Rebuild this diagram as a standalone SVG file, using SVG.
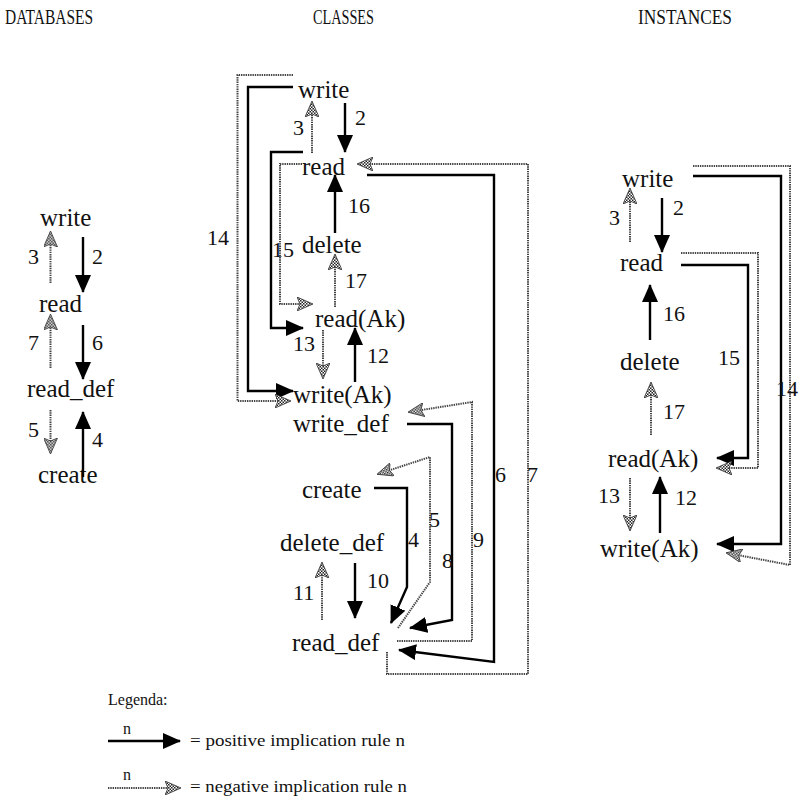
<svg xmlns="http://www.w3.org/2000/svg" width="800" height="805" viewBox="0 0 800 805">
<style>
text{font-family:"Liberation Serif","Times New Roman",serif;fill:#111}
.hd{font-size:20px}
.nd{font-size:25px}
.nm{font-size:22px}
.lg{font-size:16px}
.pos{stroke:#000;stroke-width:2.4;fill:none;marker-end:url(#pa)}
.neg{stroke:#444;stroke-width:2;stroke-dasharray:1.4 0.9;fill:none;marker-end:url(#na)}
</style>
<defs>
<pattern id="chk" width="3" height="3" patternUnits="userSpaceOnUse">
<rect width="3" height="3" fill="#fff"/>
<rect width="1.5" height="1.5" fill="#222"/>
<rect x="1.5" y="1.5" width="1.5" height="1.5" fill="#222"/>
</pattern>
<marker id="pa" viewBox="0 0 18 16" refX="17" refY="8" markerWidth="18" markerHeight="16" markerUnits="userSpaceOnUse" orient="auto">
<path d="M0,0 L18,8 L0,16 Z" fill="#000"/>
</marker>
<marker id="na" viewBox="0 0 16 14" refX="15" refY="7" markerWidth="16" markerHeight="14" markerUnits="userSpaceOnUse" orient="auto">
<path d="M0,0 L16,7 L0,14 L3,7 Z" fill="url(#chk)" stroke="#333" stroke-width="0.8"/>
</marker>
</defs>
<rect width="800" height="805" fill="#fff"/>

<g id="headers">
<text class="hd" x="5" y="24" textLength="88" lengthAdjust="spacingAndGlyphs">DATABASES</text>
<text class="hd" x="313" y="24" textLength="61" lengthAdjust="spacingAndGlyphs">CLASSES</text>
<text class="hd" x="638" y="24" textLength="94" lengthAdjust="spacingAndGlyphs">INSTANCES</text>
</g>

<!-- DATABASES nodes -->
<g id="db-write"><text class="nd" x="40" y="226">write</text></g>
<g id="db-read"><text class="nd" x="39" y="312">read</text></g>
<g id="db-read_def"><text class="nd" x="27" y="397">read_def</text></g>
<g id="db-create"><text class="nd" x="38" y="483">create</text></g>

<!-- CLASSES nodes -->
<g id="cl-write"><text class="nd" x="298" y="98">write</text></g>
<g id="cl-read"><text class="nd" x="302" y="175">read</text></g>
<g id="cl-delete"><text class="nd" x="302" y="253">delete</text></g>
<g id="cl-readAk"><text class="nd" x="315" y="327">read(Ak)</text></g>
<g id="cl-writeAk"><text class="nd" x="293" y="403">write(Ak)</text></g>
<g id="cl-write_def"><text class="nd" x="293" y="432">write_def</text></g>
<g id="cl-create"><text class="nd" x="302" y="498">create</text></g>
<g id="cl-delete_def"><text class="nd" x="280" y="551">delete_def</text></g>
<g id="cl-read_def"><text class="nd" x="292" y="651">read_def</text></g>

<!-- INSTANCES nodes -->
<g id="in-write"><text class="nd" x="622" y="187">write</text></g>
<g id="in-read"><text class="nd" x="620" y="271">read</text></g>
<g id="in-delete"><text class="nd" x="620" y="370">delete</text></g>
<g id="in-readAk"><text class="nd" x="608" y="467">read(Ak)</text></g>
<g id="in-writeAk"><text class="nd" x="600" y="557">write(Ak)</text></g>

<g id="connectors">
<!-- databases -->
<path class="neg" d="M50.5 283 V232"/>
<path class="pos" d="M83 237 V292"/>
<path class="neg" d="M50.5 368 V315"/>
<path class="pos" d="M83 325 V379"/>
<path class="neg" d="M50.5 410 V453"/>
<path class="pos" d="M83 477 V412"/>
<text class="nm" x="28" y="264">3</text>
<text class="nm" x="92" y="264">2</text>
<text class="nm" x="28" y="350">7</text>
<text class="nm" x="92" y="350">6</text>
<text class="nm" x="28" y="437">5</text>
<text class="nm" x="92" y="447">4</text>

<!-- classes -->
<path class="neg" d="M312 153 V102"/>
<path class="pos" d="M345 103 V152"/>
<path class="pos" d="M335 233 V175"/>
<path class="neg" d="M335 307 V255"/>
<path class="neg" d="M323 330 V378"/>
<path class="pos" d="M355 382 V328"/>
<path class="neg" d="M322 620 V563"/>
<path class="pos" d="M355 563 V618"/>
<path class="pos" d="M293 87 H248 V391 H293"/>
<path class="neg" d="M293 75 H237.5 V401 H290"/>
<path class="pos" d="M303 152 H271 V328 H303"/>
<path class="neg" d="M302 164 H280 V304 H312"/>
<path class="neg" d="M387 652 V674 H528 V164 H358"/>
<path class="pos" d="M367 175 H494 V662 L399 650"/>
<path class="neg" d="M397 641 H472 V402 L409 412"/>
<path class="pos" d="M407 424 H452 V620 L410 628"/>
<path class="neg" d="M398 628 L430 582 V457 L378 474"/>
<path class="pos" d="M374 488 H407 V587 L391 623"/>
<text class="nm" x="293" y="135">3</text>
<text class="nm" x="355" y="125">2</text>
<text class="nm" x="348" y="213">16</text>
<text class="nm" x="207" y="245">14</text>
<text class="nm" x="272" y="257">15</text>
<text class="nm" x="345" y="288">17</text>
<text class="nm" x="293" y="351">13</text>
<text class="nm" x="367" y="363">12</text>
<text class="nm" x="408" y="547">4</text>
<text class="nm" x="429" y="527">5</text>
<text class="nm" x="442" y="568">8</text>
<text class="nm" x="473" y="547">9</text>
<text class="nm" x="495" y="482">6</text>
<text class="nm" x="527" y="482">7</text>
<text class="nm" x="367" y="588">10</text>
<text class="nm" x="293" y="600">11</text>

<!-- instances -->
<path class="neg" d="M630 242 V189"/>
<path class="pos" d="M662 198 V252"/>
<path class="pos" d="M650 340 V285"/>
<path class="neg" d="M651 435 V383"/>
<path class="neg" d="M630 478 V530"/>
<path class="pos" d="M660 533 V477"/>
<path class="pos" d="M681 265 H748 V458 H717"/>
<path class="neg" d="M681 253 H758 V468 H717"/>
<path class="pos" d="M693 176 H781 V544 H717"/>
<path class="neg" d="M693 166 H790 V565 L727 553"/>
<text class="nm" x="609" y="225">3</text>
<text class="nm" x="673" y="215">2</text>
<text class="nm" x="663" y="321">16</text>
<text class="nm" x="663" y="419">17</text>
<text class="nm" x="598" y="503">13</text>
<text class="nm" x="675" y="505">12</text>
<text class="nm" x="718" y="365">15</text>
<text class="nm" x="776" y="396">14</text>
</g>

<g id="legend">
<text class="lg" x="108" y="705">Legenda:</text>
<path class="pos" d="M108 741 H180"/>
<text class="lg" x="123" y="734">n</text>
<text class="lg" x="190" y="746" textLength="215" lengthAdjust="spacingAndGlyphs">= positive implication rule n</text>
<path class="neg" d="M108 788 H180"/>
<text class="lg" x="123" y="780">n</text>
<text class="lg" x="190" y="792" textLength="217" lengthAdjust="spacingAndGlyphs">= negative implication rule n</text>
</g>
</svg>
